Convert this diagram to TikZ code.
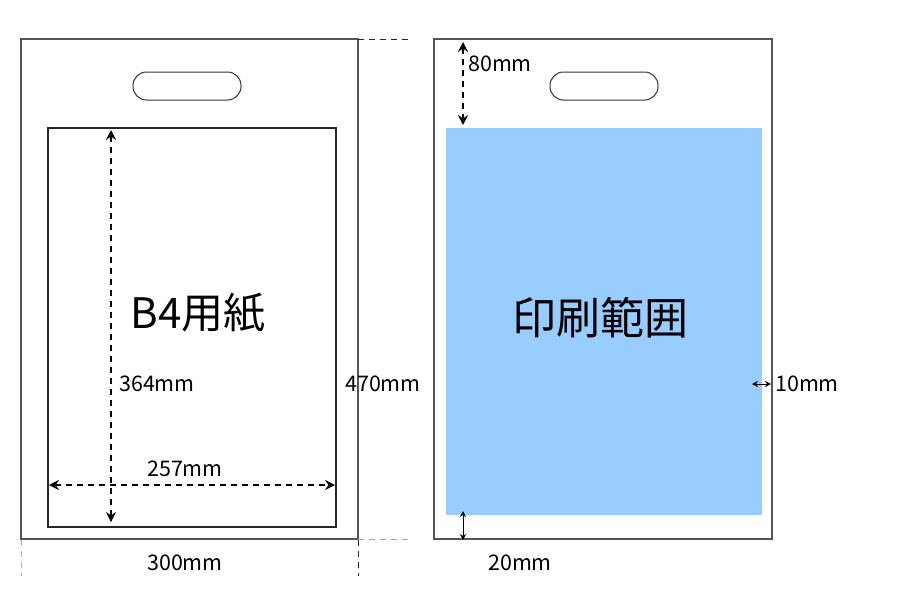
\documentclass[tikz,border=0pt]{standalone}
\usepackage{fontspec}
\setmainfont{Noto Sans CJK JP}
\usetikzlibrary{arrows.meta}
\definecolor{printblue}{HTML}{99CCFF}
\definecolor{baggray}{HTML}{555555}
\tikzset{
  bag/.style={draw=baggray, line width=1.2pt},
  paper/.style={draw=black!85, line width=1.5pt},
  handle/.style={draw=black!80, line width=1pt, rounded corners=13.5pt},
  dimline/.style={line width=1.2pt, dash pattern=on 6pt off 5pt, {Stealth[length=10pt,width=10pt,inset=3.5pt]}-{Stealth[length=10pt,width=10pt,inset=3.5pt]}},
  solidim/.style={line width=1pt, {Stealth[length=6pt,width=6pt,inset=2pt]}-{Stealth[length=6pt,width=6pt,inset=2pt]}},
  guide/.style={line width=1pt, dash pattern=on 6pt off 5pt},
  lbl/.style={font=\fontsize{21.5}{24}\selectfont, inner sep=0pt},
  big/.style={font=\fontsize{42}{46}\selectfont, inner sep=0pt}
}
\begin{document}
\begin{tikzpicture}[x=1pt,y=-1pt]
\useasboundingbox (0,0) rectangle (900,600);
% left bag
\draw[bag] (21,39) rectangle (358,539);
\draw[handle] (133,72) rectangle (241,100);
\draw[paper] (48,128) rectangle (336,527);
\coordinate (vtop) at (111,130);
\coordinate (vbot) at (111,522);
\coordinate (hl) at (49,485);
\coordinate (hr) at (335,485);
\draw[dimline] (vbot) -- (vtop);
\draw[dimline] (hl) -- (hr);
\node[big] (b4) at (198,313) {B4用紙};
\node[lbl] (l364) at (157,384) {364mm};
\node[lbl] (l257) at (185,469) {257mm};
\node[lbl] (l470) at (383,384) {470mm};
\node[lbl] (l300) at (185,563) {300mm};
% guides
\coordinate (g1a) at (358,39); \coordinate (g1b) at (408,39);
\coordinate (g2a) at (358,539); \coordinate (g2b) at (408,539);
\coordinate (g3a) at (21,540); \coordinate (g3b) at (21,576);
\coordinate (g4a) at (358,540); \coordinate (g4b) at (358,576);
\draw[guide, black!85] (g1a) -- (g1b);
\draw[guide, gray!70] (g2a) -- (g2b);
\draw[guide, gray!60] (g3a) -- (g3b);
\draw[guide, black!85] (g4a) -- (g4b);
% right bag
\draw[bag] (434,39) rectangle (772,539);
\fill[printblue] (446,128) rectangle (762,515);
\draw[handle] (550,72) rectangle (658,100);
\node[font=\fontsize{44}{48}\selectfont, inner sep=0pt] (print) at (600,318) {印刷範囲};
\coordinate (t80) at (463,42);
\coordinate (b80) at (463,125);
\draw[dimline] (t80) -- (b80);
\node[lbl] (l80) at (500,64) {80mm};
\coordinate (l10a) at (752,384);
\coordinate (l10b) at (771,384);
\draw[solidim] (l10a) -- (l10b);
\node[lbl] (l10) at (807,384) {10mm};
\coordinate (t20) at (463,511);
\coordinate (b20) at (463,540);
\draw[solidim] (t20) -- (b20);
\node[lbl] (l20) at (520,563) {20mm};
\end{tikzpicture}
\end{document}
